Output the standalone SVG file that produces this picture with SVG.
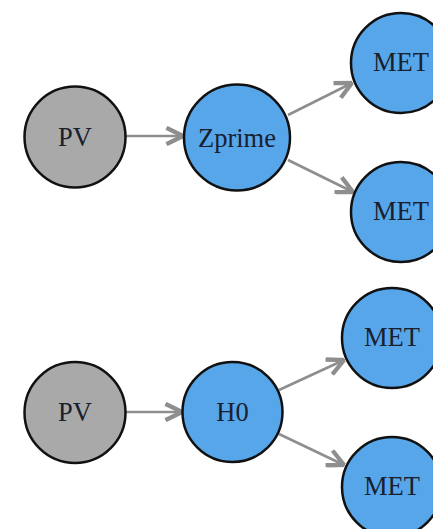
<svg xmlns="http://www.w3.org/2000/svg" width="433" height="529" viewBox="0 0 433 529">
  <style>
    .node circle { stroke: #111; stroke-width: 2.5; }
    .pv circle { fill: #a9a9a9; }
    .blue circle { fill: #58a6ea; }
    .node text { font-family: "Liberation Serif", "Times New Roman", serif; font-size: 26.5px; fill: #18202e; text-anchor: middle; dominant-baseline: central; }
    .edges line { stroke: #8e8e8e; stroke-width: 2.6; marker-end: url(#arrow); }
  </style>
  <defs>
    <marker id="arrow" viewBox="0 0 10 10" refX="9.5" refY="5" markerWidth="7.5" markerHeight="7.5" markerUnits="strokeWidth" orient="auto">
      <path d="M1,0.8 L9.5,5 L1,9.2" fill="none" stroke="#8e8e8e" stroke-width="2.2" stroke-linejoin="miter"/>
    </marker>
  </defs>
  <rect width="433" height="529" fill="#ffffff"/>

  <!-- connectors -->
  <g class="edges">
    <line x1="126" y1="136" x2="183" y2="136"/>
    <line x1="288" y1="115" x2="352" y2="83"/>
    <line x1="288" y1="160" x2="353" y2="192"/>
    <line x1="126" y1="412" x2="182" y2="412"/>
    <line x1="279" y1="390" x2="344" y2="360"/>
    <line x1="279" y1="434" x2="344" y2="465"/>
  </g>

  <!-- upper chain -->
  <g id="pv-1" class="node pv">
    <circle cx="75" cy="137" r="50.5"/>
    <text x="75" y="137">PV</text>
  </g>
  <g id="zprime" class="node blue">
    <circle cx="237" cy="137.5" r="53"/>
    <text x="237" y="137.5">Zprime</text>
  </g>
  <g id="met-1" class="node blue">
    <circle cx="401" cy="63" r="50"/>
    <text x="401" y="62">MET</text>
  </g>
  <g id="met-2" class="node blue">
    <circle cx="401" cy="212" r="50"/>
    <text x="401" y="211">MET</text>
  </g>

  <!-- lower chain -->
  <g id="pv-2" class="node pv">
    <circle cx="75" cy="412.5" r="50.5"/>
    <text x="75" y="412">PV</text>
  </g>
  <g id="h0" class="node blue">
    <circle cx="232.5" cy="412" r="50"/>
    <text x="232.5" y="412">H0</text>
  </g>
  <g id="met-3" class="node blue">
    <circle cx="392" cy="338" r="50"/>
    <text x="392" y="337">MET</text>
  </g>
  <g id="met-4" class="node blue">
    <circle cx="392" cy="487" r="50"/>
    <text x="392" y="486">MET</text>
  </g>
</svg>
